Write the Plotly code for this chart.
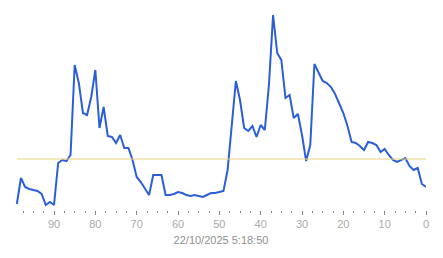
import plotly.graph_objects as go

# x positions (seconds ago), 99 .. 0
x_vals = list(range(99, -1, -1))
# series values (arbitrary units)
y_vals = [
    6, 32, 23, 21, 20, 19, 16, 5, 8, 5,          # 99..90
    47, 50, 49, 55, 145, 127, 97, 95, 113, 140,  # 89..80
    82, 103, 74, 73, 67, 75, 62, 62, 50, 33,     # 79..70
    28, 22, 15, 35, 35, 35, 15, 15, 16, 18,      # 69..60
    17, 15, 14, 15, 14, 13, 15, 17, 17, 18,      # 59..50
    19, 40, 85, 129, 110, 82, 79, 84, 73, 85,    # 49..40
    80, 125, 195, 157, 150, 112, 115, 92, 96, 75, # 39..30
    49, 65, 146, 137, 129, 127, 123, 116, 107, 97, # 29..20
    84, 68, 67, 64, 60, 68, 67, 65, 58, 61,      # 19..10
    55, 50, 48, 50, 52, 44, 40, 42, 26, 23,      # 9..0
]
threshold = 51
x_ticks = [90, 80, 70, 60, 50, 40, 30, 20, 10, 0]
title_text = "22/10/2025 5:18:50"

fig = go.Figure()
fig.add_trace(go.Scatter(
    x=x_vals, y=y_vals, mode="lines",
    line=dict(color="#2b5fd9", width=2),
    hoverinfo="skip", showlegend=False,
))
fig.add_trace(go.Scatter(
    x=[x_vals[0], x_vals[-1]], y=[threshold, threshold], mode="lines",
    line=dict(color="#ecd27c", width=1.2),
    hoverinfo="skip", showlegend=False,
))

fig.update_layout(
    width=443, height=258,
    margin=dict(l=16, r=17, t=5, b=48),
    paper_bgcolor="white", plot_bgcolor="white",
    font=dict(family="Liberation Sans, Arial, sans-serif", size=11, color="#aaaaaa"),
    xaxis=dict(
        range=[99.2, 0],
        tickmode="array", tickvals=x_ticks, ticktext=[str(t) for t in x_ticks],
        ticks="outside", ticklen=4, tickcolor="#888888", tickwidth=1,
        minor=dict(dtick=2.5, tick0=0, ticks="outside", ticklen=2, tickcolor="#888888", tickwidth=1, showgrid=False),
        showgrid=False, zeroline=False, showline=False,
        tickfont=dict(size=11, color="#aaaaaa"),
        title=dict(text=title_text, font=dict(size=11, color="#909090"), standoff=7),
    ),
    yaxis=dict(
        range=[0, 205], visible=False, showgrid=False, zeroline=False,
    ),
)

fig.write_html("out.html")
